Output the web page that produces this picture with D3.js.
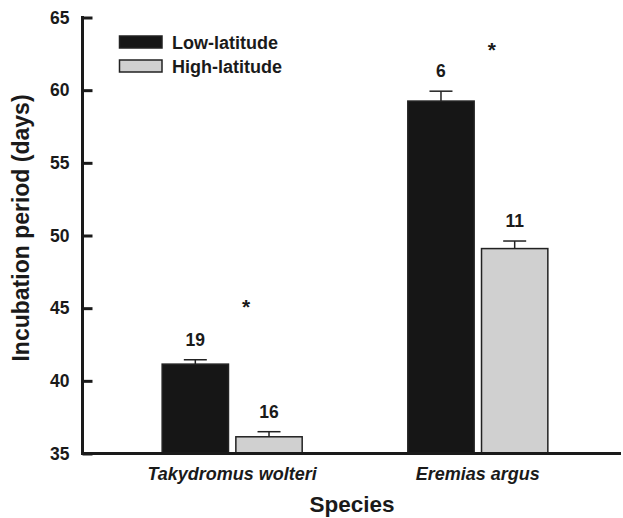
<!DOCTYPE html>
<html>
<head>
<meta charset="utf-8">
<script src="https://cdn.jsdelivr.net/npm/d3@7"></script>
<style>
  html, body { margin: 0; padding: 0; background: #fff; }
  svg text { font-family: "Liberation Sans", Arial, Helvetica, sans-serif; font-weight: bold; fill: #1a1a1a; }
</style>
</head>
<body>
<svg id="chart" width="623" height="518"></svg>
<script>
// ---- data ----
const species = ["Takydromus wolteri", "Eremias argus"];
const groups = ["Low-latitude", "High-latitude"];
const lowMean = [41.15, 59.25];
const lowErr = [0.3, 0.68];
const highMean = [36.15, 49.1];
const highErr = [0.35, 0.52];
const lowN = ["19", "6"];
const highN = ["16", "11"];
const sigMark = ["*", "*"];
const sigLevel = [45.2, 62.9];
const yTicks = [35, 40, 45, 50, 55, 60, 65];

const colors = { "Low-latitude": "#161616", "High-latitude": "#d0d0d0" };

const svg = d3.select("#chart");
const mLeft = 82.5, mRight = 621, mTop = 17.5, mBottom = 453.5;

const y = d3.scaleLinear().domain([35, 65]).range([mBottom, mTop]);
const x = d3.scaleBand().domain(species).range([86, 624]).paddingInner(0.43).paddingOuter(0.31);
const xs = d3.scaleBand().domain(groups).range([0, x.bandwidth()]).paddingInner(0.1);

const rows = [];
species.forEach((s, i) => {
  rows.push({ s, g: groups[0], v: lowMean[i], e: lowErr[i], n: lowN[i] });
  rows.push({ s, g: groups[1], v: highMean[i], e: highErr[i], n: highN[i] });
});

// bars
svg.append("g").selectAll("rect").data(rows).join("rect")
  .attr("x", d => x(d.s) + xs(d.g))
  .attr("y", d => y(d.v))
  .attr("width", xs.bandwidth())
  .attr("height", d => y(35) - y(d.v))
  .attr("fill", d => colors[d.g])
  .attr("stroke", "#222")
  .attr("stroke-width", 1.5);

// error bars
const eb = svg.append("g").attr("stroke", "#222").attr("stroke-width", 1.5);
rows.forEach(d => {
  const cx = x(d.s) + xs(d.g) + xs.bandwidth() / 2;
  eb.append("line").attr("x1", cx).attr("x2", cx).attr("y1", y(d.v)).attr("y2", y(d.v + d.e));
  eb.append("line").attr("x1", cx - 11.5).attr("x2", cx + 11.5).attr("y1", y(d.v + d.e)).attr("y2", y(d.v + d.e));
});

// N labels
svg.append("g").selectAll("text").data(rows).join("text")
  .attr("x", d => x(d.s) + xs(d.g) + xs.bandwidth() / 2)
  .attr("y", d => y(d.v + d.e) - 14)
  .attr("text-anchor", "middle")
  .attr("font-size", 17.5)
  .text(d => d.n);

// significance marks
svg.append("g").selectAll("text").data(species).join("text")
  .attr("x", (d, i) => x(d) + x.bandwidth() / 2 + 14)
  .attr("y", (d, i) => y(sigLevel[i]) + 9)
  .attr("text-anchor", "middle")
  .attr("font-size", 21)
  .attr("font-weight", "normal")
  .text((d, i) => sigMark[i]);

// y axis
const yAxis = d3.axisLeft(y).tickValues(yTicks).tickSize(-10).tickPadding(13);
const ya = svg.append("g").attr("transform", `translate(${mLeft},0)`).call(yAxis);
ya.select(".domain").remove();
ya.selectAll(".tick line").attr("stroke", "#1a1a1a").attr("stroke-width", 3);
ya.selectAll(".tick text").attr("font-size", 17.5).attr("font-family", null).attr("fill", "#1a1a1a");
ya.attr("font-family", null).attr("font-size", null);
svg.append("line").attr("x1", mLeft).attr("x2", mLeft).attr("y1", mTop - 1.5).attr("y2", mBottom + 1.5)
  .attr("stroke", "#1a1a1a").attr("stroke-width", 3);

// x axis
svg.append("line").attr("x1", mLeft - 1.5).attr("x2", mRight).attr("y1", mBottom).attr("y2", mBottom)
  .attr("stroke", "#1a1a1a").attr("stroke-width", 3);
svg.append("g").selectAll("text").data(species).join("text")
  .attr("x", d => x(d) + x.bandwidth() / 2)
  .attr("y", 480)
  .attr("text-anchor", "middle")
  .attr("font-size", 18)
  .attr("font-style", "italic")
  .text(d => d);

// titles
svg.append("text").attr("x", 352).attr("y", 512).attr("text-anchor", "middle")
  .attr("font-size", 22.5).text("Species");
svg.append("text").attr("transform", "translate(29,228) rotate(-90)").attr("text-anchor", "middle")
  .attr("font-size", 23).text("Incubation period (days)");

// legend
const lg = svg.append("g");
groups.forEach((g, i) => {
  const ly = 36 + i * 24;
  lg.append("rect").attr("x", 119.5).attr("y", ly).attr("width", 42.5).attr("height", 12)
    .attr("fill", colors[g]).attr("stroke", "#222").attr("stroke-width", 1.5);
  lg.append("text").attr("x", 172).attr("y", ly + 12.5).attr("font-size", 18).text(g);
});
</script>
</body>
</html>
